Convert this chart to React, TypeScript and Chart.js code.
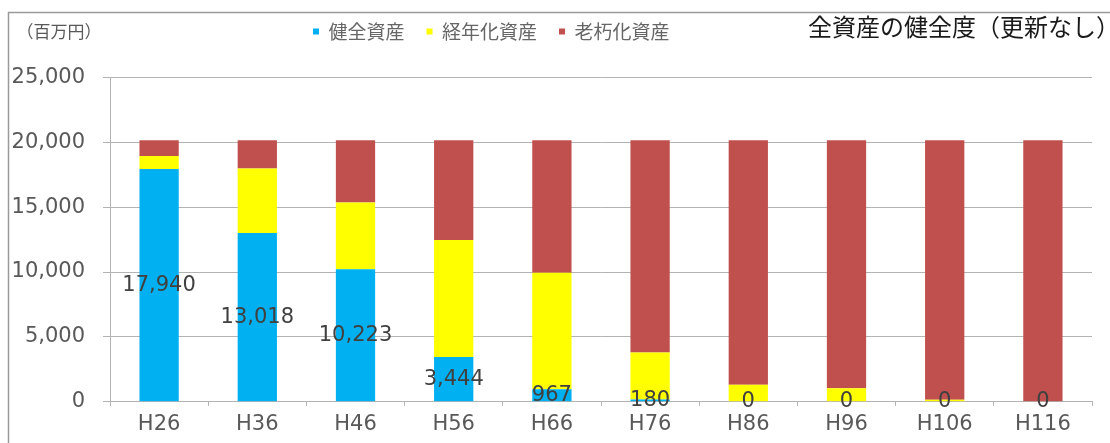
import React, { useEffect, useRef } from "react";
import { Chart, registerables } from "chart.js";

Chart.register(...registerables);

const categories = ["H26", "H36", "H46", "H56", "H66", "H76", "H86", "H96", "H106", "H116"];
const seriesNames = ["健全資産", "経年化資産", "老朽化資産"];
const healthy = [17940, 13018, 10223, 3444, 967, 180, 0, 0, 0, 0];
const aging = [1000, 4960, 5140, 9020, 8980, 3620, 1310, 1050, 150, 0];
const deteriorated = [1210, 2172, 4787, 7686, 10203, 16350, 18840, 19100, 20000, 20150];
const seriesColors = ["#00B0F0", "#FFFF00", "#C0504D"];
const unitLabel = "（百万円）";
const chartTitle = "全資産の健全度（更新なし）";

const LATIN = "'DejaVu Sans', 'Liberation Sans', sans-serif";
const CJK = "'Noto Sans CJK JP', 'Noto Sans', sans-serif";

const customPlugin = {
  id: "custom",
  afterLayout(chart: any) {
    const lg = chart.legend;
    if (lg) {
      const w = lg.width;
      const h = lg.height;
      lg.left = 291;
      lg.right = 291 + w;
      lg.top = 0;
      lg.bottom = h;
    }
    const tb = chart.titleBlock;
    if (tb) {
      const w = tb.width;
      const h = tb.height;
      tb.right = 1120;
      tb.left = 1120 - w;
      tb.top = 14;
      tb.bottom = 14 + h;
    }
  },
  beforeDraw(chart: any) {
    const ctx = chart.ctx;
    ctx.save();
    ctx.fillStyle = "#ffffff";
    ctx.fillRect(0, 0, chart.width, chart.height);
    ctx.strokeStyle = "#9a9a9a";
    ctx.lineWidth = 1.5;
    ctx.beginPath();
    ctx.moveTo(8.5, chart.height);
    ctx.lineTo(8.5, 12.5);
    ctx.lineTo(chart.width, 12.5);
    ctx.stroke();
    ctx.restore();
  },
  afterDatasetsDraw(chart: any) {
    const ctx = chart.ctx;
    const meta = chart.getDatasetMeta(0);
    ctx.save();
    ctx.font = `21px ${LATIN}`;
    ctx.fillStyle = "#404040";
    ctx.textAlign = "center";
    ctx.textBaseline = "middle";
    meta.data.forEach((el: any, i: number) => {
      const v = healthy[i];
      const y = (el.y + el.base) / 2;
      ctx.fillText(v.toLocaleString("en-US"), el.x, y);
    });
    ctx.restore();
  },
  afterDraw(chart: any) {
    const ctx = chart.ctx;
    ctx.save();
    ctx.font = `17px ${CJK}`;
    ctx.fillStyle = "#595959";
    ctx.textAlign = "left";
    ctx.textBaseline = "middle";
    ctx.fillText(unitLabel, 16.5, 32);
    ctx.restore();
  },
};

export default function App() {
  const ref = useRef<HTMLCanvasElement | null>(null);

  useEffect(() => {
    if (!ref.current) return;
    const chart = new Chart(ref.current, {
      type: "bar",
      data: {
        labels: categories,
        datasets: [
          { label: seriesNames[0], data: healthy, backgroundColor: seriesColors[0], borderWidth: 0 },
          { label: seriesNames[1], data: aging, backgroundColor: seriesColors[1], borderWidth: 0 },
          { label: seriesNames[2], data: deteriorated, backgroundColor: seriesColors[2], borderWidth: 0 },
        ],
      },
      options: {
        responsive: false,
        animation: false,
        locale: "en-US",
        layout: { padding: { left: 10, right: 18, top: 0, bottom: 0 } },
        datasets: { bar: { categoryPercentage: 1, barPercentage: 0.4 } },
        plugins: {
          tooltip: { enabled: false },
          title: {
            display: true,
            text: chartTitle,
            align: "end",
            color: "#1a1a1a",
            padding: 0,
            font: { family: CJK, size: 24, weight: "normal", lineHeight: 1.1 },
          },
          legend: {
            display: true,
            position: "top",
            align: "start",
            labels: {
              boxWidth: 6,
              boxHeight: 6,
              padding: 22,
              color: "#666666",
              font: { family: CJK, size: 19 },
            },
          },
        },
        scales: {
          x: {
            stacked: true,
            grid: { offset: true, drawOnChartArea: false, tickLength: 4, color: "#b3b3b3" },
            border: { color: "#b3b3b3" },
            ticks: { color: "#595959", padding: 6, font: { family: LATIN, size: 21 } },
          },
          y: {
            stacked: true,
            min: 0,
            max: 25000,
            afterFit: (scale: any) => {
              scale.width = 100;
            },
            grid: { color: "#b3b3b3", tickLength: 7 },
            border: { color: "#b3b3b3" },
            ticks: { stepSize: 5000, color: "#595959", padding: 18, font: { family: LATIN, size: 21 } },
          },
        },
      },
      plugins: [customPlugin],
    } as any);
    return () => chart.destroy();
  }, []);

  return (
    <div style={{ position: "fixed", left: 0, top: 0, width: 1110, height: 443, background: "#fff" }}>
      <canvas ref={ref} width={1110} height={443} />
    </div>
  );
}
